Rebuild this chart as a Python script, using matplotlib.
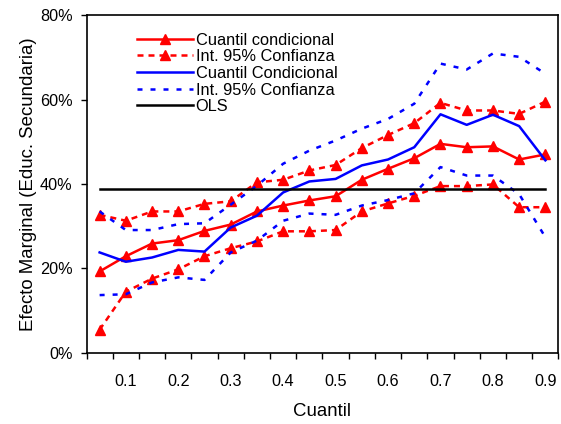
import matplotlib
matplotlib.use('Agg')
import matplotlib.pyplot as plt
from matplotlib.ticker import FixedLocator, FuncFormatter

plt.rcParams['font.family'] = ['Liberation Sans', 'DejaVu Sans']

# quantiles (categories)
cuantil = [0.05, 0.10, 0.15, 0.20, 0.25, 0.30, 0.35, 0.40, 0.45,
           0.50, 0.55, 0.60, 0.65, 0.70, 0.75, 0.80, 0.85, 0.90]

# red series (values in %)
red_mid = [19.3, 22.9, 25.9, 26.7, 28.9, 30.4, 33.5, 34.9, 36.1,
           37.1, 41.0, 43.6, 46.1, 49.5, 48.7, 48.9, 45.8, 47.0]
red_hi = [32.7, 31.3, 33.5, 33.5, 35.3, 35.9, 40.4, 41.0, 43.2,
          44.5, 48.5, 51.6, 54.4, 59.2, 57.4, 57.4, 56.6, 59.5]
red_lo = [5.5, 14.5, 17.6, 19.8, 22.9, 24.8, 26.4, 28.8, 28.8,
          29.1, 33.5, 35.4, 37.2, 39.5, 39.5, 39.9, 34.5, 34.5]

# blue series (values in %)
blue_mid = [23.8, 21.6, 22.6, 24.4, 24.0, 29.7, 32.5, 38.0, 40.6,
            41.2, 44.4, 45.8, 48.7, 56.5, 54.0, 56.4, 53.7, 45.6]
blue_hi = [33.5, 29.1, 29.1, 30.5, 30.7, 35.1, 39.6, 44.8, 47.9,
           50.3, 53.1, 55.4, 59.0, 68.5, 67.1, 70.9, 70.1, 66.1]
blue_lo = [13.7, 13.9, 16.7, 17.9, 17.3, 23.8, 26.6, 31.3, 33.0,
           32.7, 34.9, 36.2, 37.8, 44.0, 42.0, 42.0, 37.6, 27.4]

# OLS estimate, same at every quantile
ols = [38.7] * len(cuantil)

fig = plt.figure(figsize=(5.61, 4.24), dpi=100)
ax = fig.add_axes([0.1542, 0.1675, 0.9955 - 0.1542, 0.9646 - 0.1675])

lw = 1.8
red_dash = (2.4, 2.0)
blue_dash = (2.0, 3.2)

ax.plot(cuantil, red_mid, color='#ff0000', lw=lw, marker='^', ms=7.5,
        label='Cuantil condicional')
ax.plot(cuantil, red_hi, color='#ff0000', lw=lw, marker='^', ms=7.5,
        dashes=red_dash, label='Int. 95% Confianza')
ax.plot(cuantil, red_lo, color='#ff0000', lw=lw, marker='^', ms=7.5,
        dashes=red_dash, label='_nolegend_')
ax.plot(cuantil, blue_mid, color='#0000ff', lw=lw, label='Cuantil Condicional')
ax.plot(cuantil, blue_hi, color='#0000ff', lw=lw, dashes=blue_dash,
        label='Int. 95% Confianza')
ax.plot(cuantil, blue_lo, color='#0000ff', lw=lw, dashes=blue_dash,
        label='_nolegend_')
ax.plot(cuantil, ols, color='black', lw=lw, label='OLS')

ax.set_xlim(0.025, 0.925)
ax.set_ylim(0, 80)

# category-style x axis: marks between categories, labels every other one
ax.xaxis.set_major_locator(FixedLocator([0.1, 0.2, 0.3, 0.4, 0.5, 0.6, 0.7, 0.8, 0.9]))
ax.xaxis.set_minor_locator(FixedLocator([0.025 + 0.05 * k for k in range(19)]))
ax.xaxis.set_major_formatter(FuncFormatter(lambda v, p: f'{v:.1f}'))
ax.tick_params(axis='x', which='major', length=0, pad=15, labelsize=11.7)
ax.tick_params(axis='x', which='minor', length=4, width=1, direction='out')

ax.yaxis.set_major_locator(FixedLocator([0, 20, 40, 60, 80]))
ax.yaxis.set_major_formatter(FuncFormatter(lambda v, p: f'{v:.0f}%'))
ax.tick_params(axis='y', length=4, width=1, direction='out', pad=6, labelsize=11.7)

for s in ax.spines.values():
    s.set_linewidth(1.2)
    s.set_color('black')

ax.set_xlabel('Cuantil', fontsize=13.4, labelpad=10)
ax.set_ylabel('Efecto Marginal (Educ. Secundaria)', fontsize=13.4, labelpad=2)

ax.legend(loc='upper left', bbox_to_anchor=(0.108, 0.948), frameon=False,
          fontsize=11.8, handlelength=3.4, handletextpad=0.15,
          labelspacing=0.1, borderpad=0, borderaxespad=0)

fig.savefig('out.png', dpi=100)
